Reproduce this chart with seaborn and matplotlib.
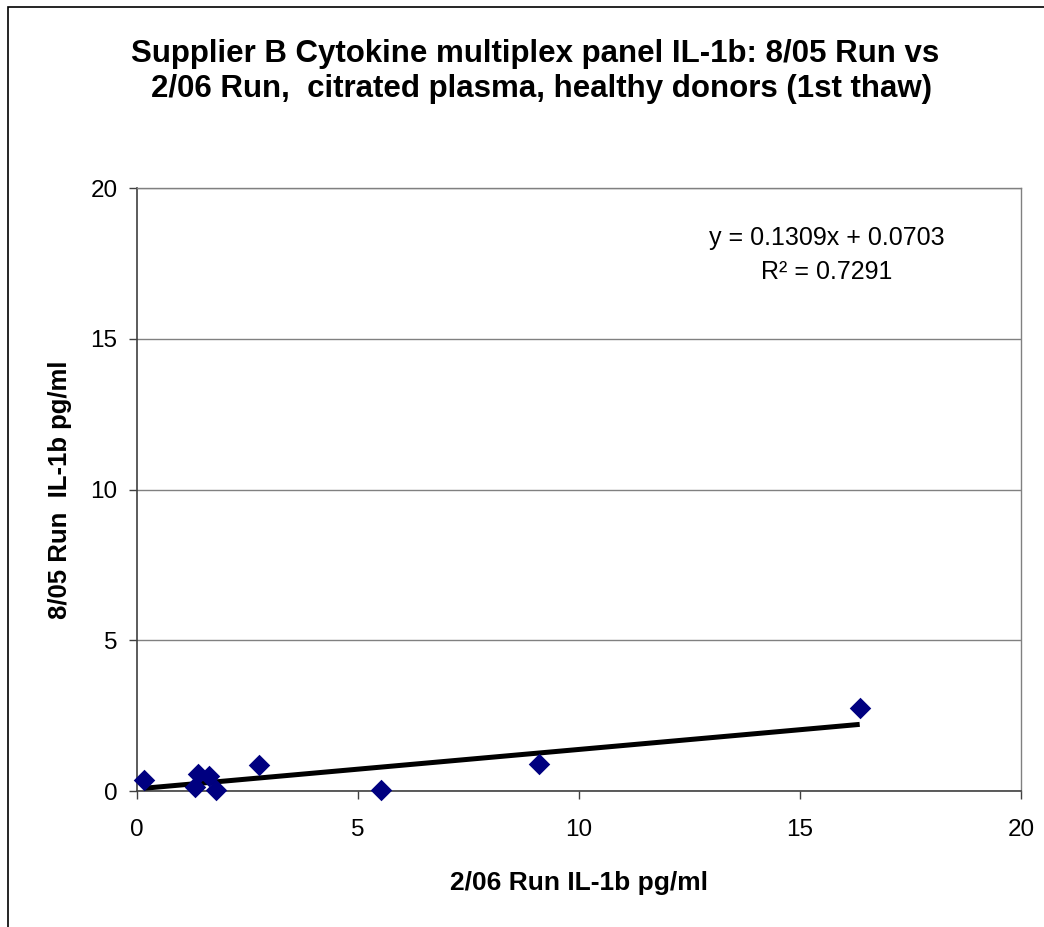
import matplotlib
matplotlib.use("Agg")
import matplotlib.pyplot as plt
import numpy as np
import pandas as pd
import seaborn as sns

# data
run_0206 = [0.16, 1.31, 1.38, 1.62, 1.78, 2.75, 5.51, 9.09, 16.35]
run_0805 = [0.38, 0.13, 0.58, 0.49, 0.05, 0.86, 0.05, 0.89, 2.75]
slope, intercept = 0.1309, 0.0703
r_squared = 0.7291

df = pd.DataFrame({"x": run_0206, "y": run_0805})

sns.set_theme(style="white")
plt.rcParams["font.family"] = ["Liberation Sans", "DejaVu Sans"]
plt.rcParams["text.color"] = "black"
plt.rcParams["axes.labelcolor"] = "black"

fig = plt.figure(figsize=(10.44, 9.27), dpi=100)
ax = fig.add_axes([0.1312, 0.1467, 0.978 - 0.1312, 0.797 - 0.1467])

# trendline
xs = np.array([min(run_0206), max(run_0206)])
ax.plot(xs, slope * xs + intercept, color="black", lw=3.6, zorder=3,
        solid_capstyle="butt")

sns.scatterplot(data=df, x="x", y="y", marker="D", s=120, color="#000080",
                edgecolor="#000080", linewidth=0, ax=ax, zorder=4, clip_on=False)

ax.set_xlim(0, 20)
ax.set_ylim(0, 20)
ax.set_xticks([0, 5, 10, 15, 20])
ax.set_yticks([0, 5, 10, 15, 20])
ax.yaxis.grid(True, color="#808080", lw=1)
ax.xaxis.grid(False)
ax.set_axisbelow(True)
for side in ["top", "right"]:
    ax.spines[side].set_color("#808080")
    ax.spines[side].set_linewidth(1)
for side in ["left", "bottom"]:
    ax.spines[side].set_color("#404040")
    ax.spines[side].set_linewidth(1.2)
ax.tick_params(axis="both", direction="out", length=6, width=1, color="#404040",
               labelsize=17.5, labelcolor="black", bottom=True, left=True)
ax.tick_params(axis="x", pad=14)
ax.tick_params(axis="y", pad=8)

ax.set_xlabel("2/06 Run IL-1b pg/ml", fontsize=19, fontweight="bold")
ax.set_ylabel("8/05 Run  IL-1b pg/ml", fontsize=18.5, fontweight="bold")
ax.xaxis.set_label_coords(0.5, -0.1526)
ax.xaxis.label.set_va("center")
ax.yaxis.set_label_coords(-0.0871, 0.5)
ax.yaxis.label.set_va("center")

title_lines = ["Supplier B Cytokine multiplex panel IL-1b: 8/05 Run vs",
               "2/06 Run,  citrated plasma, healthy donors (1st thaw)"]
fig.text(0.513, 0.9331, title_lines[0], ha="center", va="baseline",
         fontsize=22.5, fontweight="bold")
fig.text(0.519, 0.8954, title_lines[1], ha="center", va="baseline",
         fontsize=22.5, fontweight="bold")

ax.text(15.6, 18.11, f"y = {slope:.4f}x + {intercept:.4f}", ha="center",
        va="baseline", fontsize=18)
ax.text(15.6, 16.98, f"R\u00b2 = {r_squared:.4f}", ha="center",
        va="baseline", fontsize=18)

# outer frame (left and top edges visible)
fig.patches.append(plt.Rectangle((8 / 1044, -0.05), 1.1, 1 - 7 / 927 + 0.05,
                                 transform=fig.transFigure, fill=False,
                                 edgecolor="black", lw=1.2))

fig.savefig("out.png", dpi=100, facecolor="white")
